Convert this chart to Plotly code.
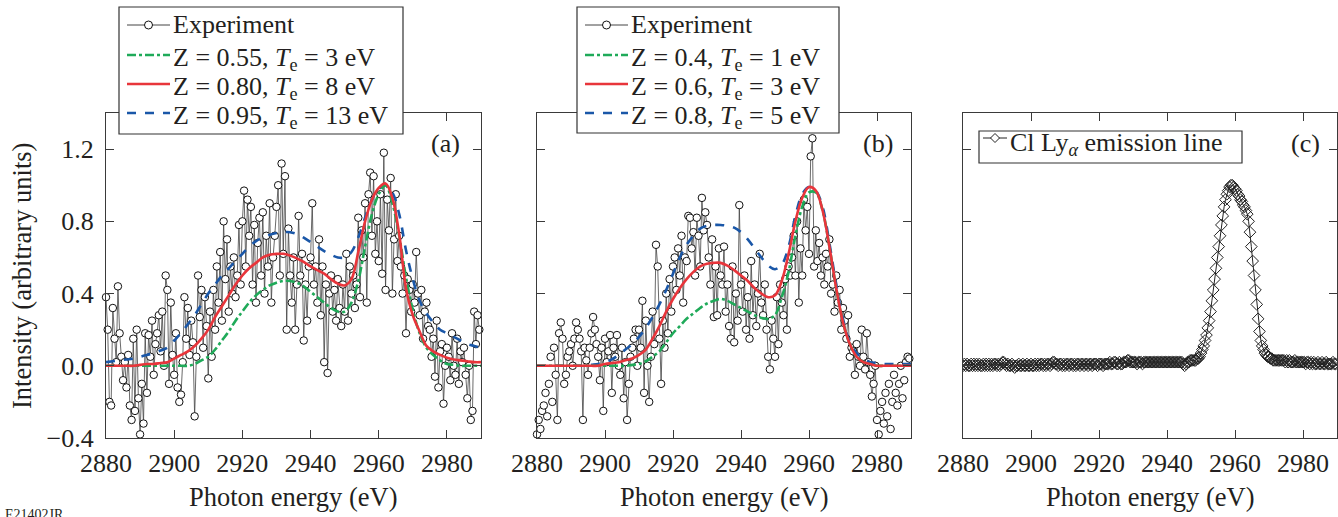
import numpy as np
import plotly.graph_objects as go

# ---------------- data ----------------
# experimental spectra, sampled every 0.5 eV from 2880 eV
exp_start, exp_step = 2880.0, 0.5
exp_a = [
    0.38, 0.20, -0.20, -0.22, 0.32, 0.15, 0.02, 0.44, 0.18, 0.05,
    -0.08, 0.02, -0.12, 0.06, -0.22, -0.30, 0.15, -0.25, 0.20, -0.18,
    -0.38, -0.10, -0.32, 0.18, -0.15, 0.17, 0.05, 0.25, -0.05, 0.12,
    0.18, 0.28, 0.08, 0.30, 0.00, 0.50, 0.42, -0.10, 0.35, 0.06,
    -0.05, 0.18, -0.12, -0.20, -0.16, 0.02, 0.38, 0.15, 0.32, 0.06,
    0.25, 0.13, -0.28, 0.05, 0.50, 0.27, 0.42, 0.10, 0.38, 0.22,
    -0.07, 0.30, 0.05, 0.42, 0.20, 0.55, 0.35, 0.63, 0.25, 0.80,
    0.48, 0.70, 0.30, 0.55, 0.40, 0.60, 0.38, 0.50, 0.78, 0.45,
    0.80, 0.97, 0.55, 0.92, 0.72, 0.88, 0.45, 0.78, 0.35, 0.68,
    0.82, 0.50, 0.85, 0.40, 0.72, 0.55, 0.90, 0.35, 0.60, 0.72,
    0.88, 1.00, 0.50, 1.12, 0.62, 1.05, 0.20, 0.76, 0.50, 0.35,
    0.60, 0.20, 0.45, 0.83, 0.50, 0.62, 0.14, 0.45, 0.25, 0.55,
    0.60, 0.90, 0.45, 0.55, 0.35, 0.70, 0.28, 0.55, 0.02, 0.45,
    -0.04, 0.40, 0.50, 0.30, 0.42, 0.25, 0.48, 0.32, 0.22, 0.45,
    0.30, 0.62, 0.25, 0.55, 0.40, 0.50, 0.32, 0.45, 0.82, 0.38,
    0.75, 0.60, 0.90, 0.35, 0.95, 1.07, 0.72, 1.05, 0.62, 0.80,
    0.58, 0.95, 0.51, 1.18, 0.42, 0.92, 0.75, 1.04, 0.40, 0.70,
    0.95, 0.58, 0.72, 0.55, 0.40, 0.50, 0.18, 0.48, 0.42, 0.30,
    0.45, 0.35, 0.63, 0.40, 0.28, 0.42, 0.15, 0.30, 0.35, 0.22,
    0.20, 0.05, 0.15, -0.06, 0.25, -0.12, 0.08, 0.12, -0.21, 0.00,
    0.10, 0.05, -0.08, 0.18, 0.00, -0.05, 0.15, -0.10, 0.08, 0.02,
    0.10, -0.05, -0.18, 0.00, -0.30, -0.25, 0.30, 0.12, 0.28, 0.20,
]
exp_b = [
    -0.38, -0.30, -0.35, -0.25, -0.22, -0.15, -0.28, -0.10, 0.05, -0.20,
    0.10, -0.05, -0.30, 0.18, 0.24, 0.15, -0.10, -0.05, 0.05, 0.08,
    0.12, 0.00, 0.15, 0.24, 0.20, 0.15, 0.08, -0.30, 0.10, 0.03,
    -0.05, 0.10, 0.18, 0.27, 0.20, 0.12, 0.05, -0.08, 0.10, -0.25,
    0.15, 0.02, 0.08, 0.17, -0.15, 0.10, 0.05, 0.17, 0.00, -0.05,
    0.10, -0.18, 0.02, -0.30, -0.10, 0.05, 0.10, 0.15, 0.20, 0.00,
    0.20, 0.10, 0.36, -0.15, 0.25, 0.00, -0.20, 0.05, 0.30, 0.12,
    0.67, 0.55, 0.15, -0.10, 0.25, 0.10, 0.40, 0.18, 0.48, 0.30,
    0.55, 0.60, 0.42, 0.65, 0.50, 0.72, 0.35, 0.60, 0.58, 0.83,
    0.82, 0.65, 0.74, 0.50, 0.82, 0.72, 0.55, 0.93, 0.75, 0.85,
    0.78, 0.60, 0.45, 0.70, 0.27, 0.55, 0.28, 0.65, 0.50, 0.45,
    0.66, 0.30, 0.45, 0.22, 0.15, 0.55, 0.13, 0.40, 0.25, 0.89,
    0.45, 0.30, 0.50, 0.20, 0.38, 0.15, 0.58, 0.28, 0.45, 0.22,
    0.40, 0.62, 0.35, 0.28, 0.45, 0.20, 0.05, -0.02, 0.25, 0.15,
    0.05, 0.38, 0.12, 0.45, 0.35, 0.28, 0.48, 0.20, 0.55, 0.50,
    0.60, 0.72, 0.50, 0.80, 0.35, 0.65, 0.50, 0.92, 0.75, 0.88,
    0.62, 1.16, 1.26, 0.55, 0.75, 0.58, 0.68, 0.50, 0.60, 0.45,
    0.62, 0.55, 0.70, 0.40, 0.45, 0.30, 0.50, 0.35, 0.42, 0.20,
    0.32, 0.25, 0.15, 0.28, 0.05, 0.10, 0.08, -0.05, 0.12, 0.05,
    0.00, 0.20, 0.05, -0.02, 0.18, 0.02, -0.05, -0.17, -0.10, 0.00,
    -0.30, -0.38, -0.25, -0.20, -0.32, -0.15, -0.28, -0.10, -0.35, -0.20,
    -0.05, -0.15, -0.22, -0.10, 0.00, -0.18, -0.08, 0.02, 0.05, 0.04,
]
# panel (b): experimental points outside this window are shown without connecting line
b_line_window = (2885.0, 2980.0)

# model spectra, sampled every 2 eV from 2880 eV
model_start, model_step = 2880.0, 2.0
a_green = [0.00, 0.00, 0.00, 0.00, 0.00, 0.00, 0.00, 0.00, 0.00, 0.00,
           0.00, 0.00, 0.00, 0.01, 0.03, 0.05, 0.09, 0.14, 0.19, 0.25,
           0.30, 0.35, 0.39, 0.42, 0.445, 0.46, 0.47, 0.47, 0.46, 0.44,
           0.41, 0.38, 0.35, 0.32, 0.30, 0.30, 0.35, 0.47, 0.66, 0.84,
           0.95, 1.00, 0.90, 0.72, 0.49, 0.31, 0.18, 0.10, 0.06, 0.03,
           0.01, 0.005, 0.00, 0.00, 0.00, 0.00]
a_red = [0.00, 0.00, 0.00, 0.00, 0.00, 0.005, 0.01, 0.01, 0.015, 0.02,
         0.04, 0.06, 0.08, 0.11, 0.15, 0.20, 0.27, 0.33, 0.39, 0.45,
         0.50, 0.54, 0.57, 0.60, 0.615, 0.62, 0.62, 0.61, 0.595, 0.575,
         0.55, 0.53, 0.51, 0.48, 0.455, 0.445, 0.48, 0.63, 0.80, 0.92,
         0.985, 1.01, 0.93, 0.73, 0.43, 0.28, 0.19, 0.11, 0.08, 0.06,
         0.045, 0.035, 0.03, 0.025, 0.02, 0.02]
a_blue = [0.02, 0.025, 0.03, 0.035, 0.04, 0.05, 0.06, 0.07, 0.085, 0.10,
          0.14, 0.18, 0.23, 0.28, 0.34, 0.40, 0.45, 0.50, 0.54, 0.58,
          0.62, 0.66, 0.69, 0.71, 0.725, 0.735, 0.74, 0.74, 0.73, 0.71,
          0.685, 0.66, 0.635, 0.615, 0.60, 0.60, 0.63, 0.71, 0.82, 0.92,
          0.98, 1.00, 0.96, 0.84, 0.64, 0.48, 0.36, 0.29, 0.24, 0.20,
          0.18, 0.16, 0.14, 0.12, 0.11, 0.10]
b_green = [0.00, 0.00, 0.00, 0.00, 0.00, 0.00, 0.00, 0.00, 0.00, 0.00,
           0.00, 0.00, 0.00, 0.00, 0.005, 0.01, 0.025, 0.05, 0.08, 0.13,
           0.18, 0.22, 0.26, 0.29, 0.32, 0.345, 0.36, 0.37, 0.36, 0.34,
           0.32, 0.30, 0.28, 0.265, 0.26, 0.28, 0.38, 0.52, 0.72, 0.88,
           0.96, 0.96, 0.86, 0.66, 0.43, 0.24, 0.12, 0.05, 0.02, 0.01,
           0.00, 0.00, 0.00, 0.00, 0.00, 0.00]
b_red = [0.00, 0.00, 0.00, 0.00, 0.00, 0.00, 0.00, 0.00, 0.00, 0.00,
         0.01, 0.015, 0.02, 0.03, 0.04, 0.06, 0.09, 0.15, 0.22, 0.30,
         0.37, 0.43, 0.48, 0.52, 0.55, 0.565, 0.57, 0.57, 0.555, 0.53,
         0.50, 0.47, 0.43, 0.40, 0.38, 0.39, 0.47, 0.62, 0.80, 0.93,
         0.99, 0.97, 0.86, 0.66, 0.43, 0.24, 0.12, 0.05, 0.02, 0.01,
         0.00, 0.00, 0.00, 0.00, 0.00, 0.00]
b_blue = [0.00, 0.00, 0.00, 0.00, 0.00, 0.00, 0.00, 0.00, 0.005, 0.01,
          0.02, 0.035, 0.06, 0.09, 0.12, 0.16, 0.21, 0.27, 0.34, 0.42,
          0.51, 0.60, 0.67, 0.72, 0.76, 0.775, 0.78, 0.78, 0.775, 0.765,
          0.74, 0.70, 0.65, 0.60, 0.555, 0.535, 0.56, 0.66, 0.83, 0.95,
          0.99, 0.97, 0.88, 0.68, 0.45, 0.26, 0.13, 0.07, 0.04, 0.02,
          0.015, 0.01, 0.01, 0.01, 0.01, 0.01]

# Cl Ly-alpha emission line, sampled every 0.4 eV from 2880 eV
lya_start, lya_step = 2880.0, 0.4
lya = [
    0.00, 0.01, 0.00, 0.01, 0.00, 0.00, 0.01, 0.00, 0.01, 0.00,
    0.01, 0.00, 0.01, 0.00, 0.00, 0.01, 0.00, 0.01, 0.00, 0.01,
    0.00, 0.01, 0.00, 0.01, 0.01, 0.00, 0.01, 0.00, 0.01, 0.02,
    0.02, 0.01, 0.00, 0.01, 0.00, 0.00, 0.01, 0.00, -0.01, 0.00,
    0.00, 0.01, 0.00, 0.00, 0.01, 0.00, 0.00, 0.01, 0.00, 0.00,
    0.01, 0.00, 0.00, 0.01, 0.00, 0.01, 0.00, 0.01, 0.01, 0.00,
    0.01, 0.00, 0.01, 0.01, 0.00, 0.01, 0.02, 0.02, 0.01, 0.01,
    0.00, 0.01, 0.01, 0.00, 0.01, 0.00, 0.01, 0.01, 0.00, 0.01,
    0.01, 0.00, 0.01, 0.00, 0.01, 0.01, 0.00, 0.01, 0.01, 0.00,
    0.01, 0.01, 0.00, 0.01, 0.01, 0.00, 0.01, 0.01, 0.01, 0.00,
    0.01, 0.01, 0.01, 0.00, 0.01, 0.01, 0.01, 0.01, 0.02, 0.01,
    0.01, 0.02, 0.02, 0.01, 0.01, 0.02, 0.01, 0.01, 0.02, 0.02,
    0.02, 0.03, 0.03, 0.02, 0.02, 0.02, 0.02, 0.02, 0.01, 0.02,
    0.02, 0.02, 0.01, 0.02, 0.02, 0.02, 0.02, 0.02, 0.02, 0.02,
    0.02, 0.02, 0.02, 0.02, 0.02, 0.02, 0.02, 0.02, 0.02, 0.02,
    0.02, 0.02, 0.02, 0.02, 0.02, 0.02, 0.02, 0.02, 0.02, 0.02,
    0.02, 0.02, 0.01, 0.00, 0.01, 0.02, 0.02, 0.03, 0.03, 0.03,
    0.03, 0.03, 0.04, 0.04, 0.05, 0.07, 0.09, 0.11, 0.14, 0.17,
    0.21, 0.25, 0.30, 0.36, 0.42, 0.48, 0.54, 0.60, 0.66, 0.72,
    0.78, 0.83, 0.88, 0.92, 0.95, 0.97, 0.99, 1.00, 1.00, 0.99,
    0.98, 0.97, 0.95, 0.94, 0.92, 0.91, 0.89, 0.88, 0.86, 0.84,
    0.80, 0.74, 0.66, 0.58, 0.50, 0.42, 0.34, 0.26, 0.19, 0.14,
    0.11, 0.09, 0.07, 0.06, 0.05, 0.05, 0.04, 0.04, 0.03, 0.03,
    0.03,
    0.03, 0.03, 0.03, 0.03, 0.03, 0.03, 0.02, 0.03, 0.02, 0.03,
    0.02, 0.02, 0.02, 0.03, 0.02, 0.02, 0.02, 0.02, 0.02, 0.02,
    0.02, 0.01, 0.02, 0.02, 0.01, 0.02, 0.01, 0.02, 0.01, 0.01,
    0.02, 0.01, 0.01, 0.02, 0.01, 0.01, 0.02, 0.01, 0.01, 0.01,
    0.01, 0.02, 0.01, 0.01,
]

x_ticks = [2880, 2900, 2920, 2940, 2960, 2980]
y_ticks = [-0.4, 0.0, 0.4, 0.8, 1.2]
y_ticktext = ["\u22120.4", "0.0", "0.4", "0.8", "1.2"]

legend_a = ["Experiment",
            "Z = 0.55, <i>T</i><sub>e</sub> = 3 eV",
            "Z = 0.80, <i>T</i><sub>e</sub> = 8 eV",
            "Z = 0.95, <i>T</i><sub>e</sub> = 13 eV"]
legend_b = ["Experiment",
            "Z = 0.4, <i>T</i><sub>e</sub> = 1 eV",
            "Z = 0.6, <i>T</i><sub>e</sub> = 3 eV",
            "Z = 0.8, <i>T</i><sub>e</sub> = 5 eV"]
legend_c = "Cl Ly<sub><i>\u03b1</i></sub> emission line"
panel_labels = ["(a)", "(b)", "(c)"]
x_title = "Photon energy (eV)"
y_title = "Intensity (arbitrary units)"

# ---------------- styling ----------------
W, H = 1338, 517
FONT = "Liberation Serif"
TXT = "#231f20"
AX = "#3a3a3a"
GREEN, RED, BLUE = "#1faa59", "#e8353b", "#1a57a8"
EXP_LINE = "#444444"
FS_TICK, FS_TITLE, FS_LEG = 26, 26.5, 26


def px(x):
    return x / W


def py(y):
    return 1 - y / H


panel_px = [(106, 481), (537, 911), (963, 1337)]
top_px, bot_px = 113, 438

fig = go.Figure()


def grid(start, step, n):
    return start + step * np.arange(n)


xa = grid(exp_start, exp_step, len(exp_a))
xb = grid(exp_start, exp_step, len(exp_b))
xm = grid(model_start, model_step, len(a_red))
xc = grid(lya_start, lya_step, len(lya))

exp_marker = dict(symbol="circle", size=7.5, color="white",
                  line=dict(color="#111", width=1))
exp_line = dict(color=EXP_LINE, width=0.8)
model_styles = {
    "green": dict(color=GREEN, width=2.6, dash="dashdot", shape="spline"),
    "red": dict(color=RED, width=2.6, shape="spline"),
    "blue": dict(color=BLUE, width=2.6, dash="dash", shape="spline"),
}

# ----- panel (a)
fig.add_trace(go.Scatter(x=xa, y=exp_a, mode="lines+markers", name=legend_a[0],
                         line=exp_line, marker=exp_marker, cliponaxis=False,
                         xaxis="x", yaxis="y"))
fig.add_trace(go.Scatter(x=xm, y=a_blue, mode="lines", name=legend_a[3],
                         line=model_styles["blue"], xaxis="x", yaxis="y"))
fig.add_trace(go.Scatter(x=xm, y=a_green, mode="lines", name=legend_a[1],
                         line=model_styles["green"], xaxis="x", yaxis="y"))
fig.add_trace(go.Scatter(x=xm, y=a_red, mode="lines", name=legend_a[2],
                         line=model_styles["red"], xaxis="x", yaxis="y"))

# ----- panel (b)
xb_arr = np.array(xb)
yb_arr = np.array(exp_b)
inside = (xb_arr >= b_line_window[0]) & (xb_arr <= b_line_window[1])
fig.add_trace(go.Scatter(x=xb_arr[inside], y=yb_arr[inside], mode="lines+markers",
                         name=legend_b[0], line=exp_line, marker=exp_marker,
                         cliponaxis=False, xaxis="x2", yaxis="y2"))
fig.add_trace(go.Scatter(x=xb_arr[~inside], y=yb_arr[~inside], mode="markers",
                         name=legend_b[0], marker=exp_marker, cliponaxis=False,
                         xaxis="x2", yaxis="y2"))
fig.add_trace(go.Scatter(x=xm, y=b_blue, mode="lines", name=legend_b[3],
                         line=model_styles["blue"], xaxis="x2", yaxis="y2"))
fig.add_trace(go.Scatter(x=xm, y=b_green, mode="lines", name=legend_b[1],
                         line=model_styles["green"], xaxis="x2", yaxis="y2"))
fig.add_trace(go.Scatter(x=xm, y=b_red, mode="lines", name=legend_b[2],
                         line=model_styles["red"], xaxis="x2", yaxis="y2"))

# ----- panel (c)
fig.add_trace(go.Scatter(x=xc, y=lya, mode="lines+markers", name="Cl Ly\u03b1 emission line",
                         line=dict(color="#222", width=1),
                         marker=dict(symbol="diamond-open", size=9, color="#222",
                                     line=dict(width=1)),
                         xaxis="x3", yaxis="y3"))

# ---------------- axes ----------------
common_x = dict(range=[2880, 2990], tickvals=x_ticks, ticks="inside", ticklen=8,
                tickwidth=1.2, tickcolor=AX, showline=True, linecolor=AX,
                linewidth=1.3, mirror="allticks", showgrid=False, zeroline=False,
                tickfont=dict(family=FONT, size=FS_TICK, color=TXT),
                ticklabelstandoff=2)
common_y = dict(range=[-0.4, 1.4], tickvals=y_ticks, ticktext=y_ticktext,
                ticks="inside", ticklen=8, tickwidth=1.2, tickcolor=AX,
                showline=True, linecolor=AX, linewidth=1.3, mirror="allticks",
                showgrid=False, zeroline=False,
                tickfont=dict(family=FONT, size=FS_TICK, color=TXT),
                ticklabelstandoff=6)
ydom = [py(bot_px), py(top_px)]
layout_axes = {}
for i, (l, r) in enumerate(panel_px):
    sfx = "" if i == 0 else str(i + 1)
    layout_axes["xaxis" + sfx] = dict(common_x, domain=[px(l), px(r)],
                                      anchor="y" + sfx)
    layout_axes["yaxis" + sfx] = dict(common_y, domain=ydom, anchor="x" + sfx,
                                      showticklabels=(i == 0))

fig.update_layout(
    width=W, height=H,
    margin=dict(l=0, r=0, t=0, b=0, pad=0, autoexpand=False),
    paper_bgcolor="white", plot_bgcolor="white",
    font=dict(family=FONT, color=TXT),
    showlegend=False,
    **layout_axes,
)

# ---------------- legends (boxes drawn in paper space) ----------------
shapes = []
annotations = []


def add_text(text, x, y, size, xanchor="center", yanchor="middle", angle=0):
    annotations.append(dict(text=text, x=px(x), y=py(y), xref="paper",
                            yref="paper", xanchor=xanchor, yanchor=yanchor,
                            showarrow=False, textangle=angle, borderpad=0,
                            font=dict(family=FONT, size=size, color=TXT)))


def legend_box(x0, y0, x1, y1):
    shapes.append(dict(type="rect", xref="paper", yref="paper",
                       x0=px(x0), x1=px(x1), y0=py(y1), y1=py(y0),
                       line=dict(color="#333", width=1.2), fillcolor="white",
                       layer="above"))


def sample_line(x0, x1, y, color, width, dash="solid"):
    shapes.append(dict(type="line", xref="paper", yref="paper",
                       x0=px(x0), x1=px(x1), y0=py(y), y1=py(y),
                       line=dict(color=color, width=width, dash=dash),
                       layer="above"))


def sample_circle(xc_, yc_, r):
    shapes.append(dict(type="circle", xref="paper", yref="paper",
                       x0=px(xc_ - r), x1=px(xc_ + r), y0=py(yc_ + r), y1=py(yc_ - r),
                       line=dict(color="#111", width=1), fillcolor="white",
                       layer="above"))


def sample_diamond(xc_, yc_, r):
    path = "M {a},{b} L {c},{d} L {a},{e} L {f},{d} Z".format(
        a=px(xc_), b=py(yc_ - r), c=px(xc_ + r), d=py(yc_), e=py(yc_ + r),
        f=px(xc_ - r))
    shapes.append(dict(type="path", xref="paper", yref="paper", path=path,
                       line=dict(color="#222", width=1), fillcolor="white",
                       layer="above"))


def model_legend(box, line_x, text_x, labels, rows_y):
    legend_box(*box)
    # Experiment row
    sample_line(line_x[0], line_x[1], rows_y[0], EXP_LINE, 1)
    sample_circle((line_x[0] + line_x[1]) / 2, rows_y[0], 4)
    add_text(labels[0], text_x, rows_y[0], FS_LEG, xanchor="left")
    for lab, key, y in zip(labels[1:], ["green", "red", "blue"], rows_y[1:]):
        st = model_styles[key]
        sample_line(line_x[0], line_x[1], y, st["color"], 2.6, st.get("dash", "solid"))
        add_text(lab, text_x, y + 4, FS_LEG, xanchor="left")


model_legend((119, 7, 403, 134), (127, 170), 172, legend_a, [25, 55, 84, 113])
model_legend((577, 7, 839, 133), (585, 628), 630, legend_b, [25, 55, 84, 113])
legend_box(979, 131, 1242, 163)
sample_line(983, 1007, 138, "#222", 1)
sample_diamond(995, 138, 4.5)
add_text(legend_c, 1009, 144, FS_LEG, xanchor="left")

# panel labels and axis titles
label_x = [445, 878, 1305]
for i, (l, r) in enumerate(panel_px):
    add_text(panel_labels[i], label_x[i], 143, FS_LEG)
    add_text(x_title, (l + r) / 2, 497, FS_TITLE)
add_text(y_title, 22, 276, FS_TITLE, angle=-90)
add_text("E21402JR", 4, 506, 14, xanchor="left", yanchor="top")

fig.update_layout(shapes=shapes, annotations=annotations)

# the page's default 8px body margin would push the 1338x517 figure off-window
fig.write_html(
    "out.html",
    config={"displayModeBar": False},
    post_script="document.documentElement.style.margin='0';"
                "document.body.style.margin='0';"
                "document.body.style.overflow='hidden';",
)
